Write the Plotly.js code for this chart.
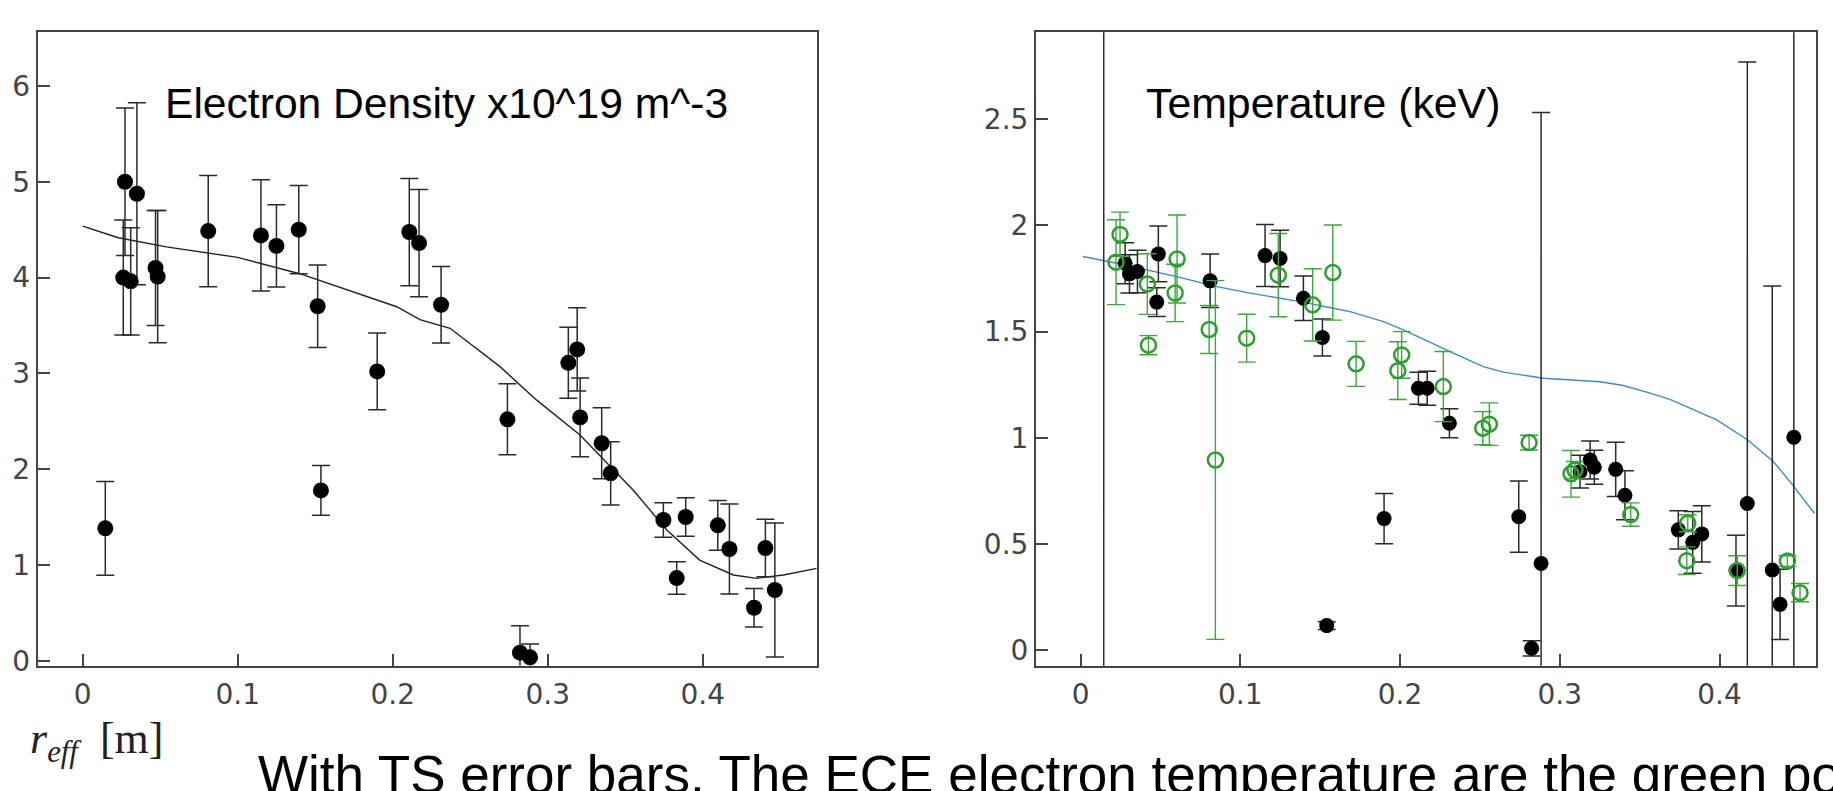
<!DOCTYPE html>
<html>
<head>
<meta charset="utf-8">
<script src="https://cdn.plot.ly/plotly-3.0.1.min.js"></script>
<style>html,body{margin:0;padding:0;background:#fff;}#chart{width:1833px;height:791px;}</style>
</head>
<body>
<div id="chart"></div>
<script>
// ---- Electron density (Thomson scattering) ----
const densR   = [0.0146,0.0262,0.0273,0.031,0.035,0.047,0.0484,0.081,0.115,0.125,0.1394,0.1516,0.1537,0.19,0.2107,0.217,0.2312,0.274,0.2821,0.2886,0.3133,0.319,0.3209,0.3348,0.3406,0.3746,0.3832,0.389,0.4097,0.4172,0.4331,0.4404,0.4465];
const densVal = [1.382,4.00,5.00,3.96,4.875,4.10,4.01,4.485,4.44,4.33,4.50,3.70,1.778,3.02,4.475,4.36,3.716,2.52,0.084,0.035,3.11,3.25,2.54,2.27,1.956,1.469,0.863,1.50,1.413,1.166,0.553,1.176,0.738];
const densErr = [0.49,0.60,0.77,0.56,0.95,0.60,0.69,0.58,0.58,0.43,0.46,0.43,0.26,0.40,0.56,0.56,0.40,0.37,0.28,0.14,0.37,0.435,0.41,0.37,0.33,0.18,0.17,0.20,0.26,0.47,0.20,0.30,0.70];

// density fit curve
const densFitR = [0.0,0.023,0.054,0.1,0.14,0.2026,0.2176,0.237,0.2692,0.2929,0.3208,0.3552,0.3768,0.398,0.4197,0.4348,0.452,0.4735];
const densFitV = [4.537,4.415,4.32,4.21,4.04,3.695,3.56,3.47,3.07,2.72,2.356,1.78,1.364,1.05,0.895,0.86,0.895,0.964];

// ---- Electron temperature, Thomson scattering (black) ----
const tsR   = [0.0145,0.0279,0.0306,0.0356,0.0487,0.0477,0.0811,0.1155,0.1249,0.1395,0.1514,0.1541,0.19,0.2115,0.217,0.2309,0.2743,0.2824,0.2883,0.3127,0.319,0.3216,0.335,0.3408,0.3742,0.3832,0.3889,0.4103,0.4174,0.433,0.4379,0.4465];
const tsVal = [-1.0,1.822,1.772,1.783,1.866,1.639,1.739,1.858,1.844,1.657,1.472,0.115,0.619,1.233,1.233,1.068,0.628,0.008,0.408,0.84,0.895,0.861,0.851,0.729,0.566,0.507,0.547,0.374,0.69,0.377,0.215,1.002];
const tsErr = [4.0,0.097,0.09,0.1,0.131,0.068,0.126,0.146,0.133,0.105,0.087,0.018,0.118,0.075,0.08,0.068,0.168,0.036,2.124,0.077,0.09,0.08,0.128,0.116,0.09,0.145,0.133,0.167,2.08,1.338,0.165,2.5];

// ---- Electron temperature, ECE (green) ----
const eceR   = [0.0222,0.0247,0.0418,0.0425,0.0592,0.0604,0.0805,0.0844,0.104,0.1238,0.1453,0.1579,0.1725,0.1986,0.201,0.2271,0.2518,0.2559,0.2808,0.307,0.3095,0.3444,0.3801,0.3795,0.4111,0.4425,0.4504];
const eceVal = [1.827,1.958,1.724,1.436,1.682,1.842,1.51,0.895,1.469,1.766,1.626,1.778,1.348,1.316,1.39,1.241,1.045,1.064,0.977,0.83,0.848,0.638,0.597,0.421,0.374,0.419,0.27];
const eceErr = [0.2,0.105,0.143,0.045,0.135,0.207,0.113,0.845,0.113,0.196,0.17,0.224,0.106,0.136,0.11,0.165,0.078,0.1,0.035,0.11,0.04,0.055,0.04,0.065,0.07,0.025,0.043];

// temperature fit curve
const teFitR = [0.0014,0.0227,0.0602,0.0853,0.1061,0.1374,0.1583,0.1687,0.1896,0.2021,0.2313,0.2521,0.2647,0.2897,0.3252,0.3398,0.3565,0.369,0.3982,0.417,0.4337,0.4462,0.4594];
const teFitV = [1.854,1.822,1.759,1.712,1.681,1.641,1.61,1.594,1.547,1.508,1.406,1.335,1.309,1.28,1.264,1.246,1.21,1.181,1.084,0.993,0.888,0.773,0.644];

// ---- tick labels ----
const xTickVals = [0,0.1,0.2,0.3,0.4];
const xTickText = ['0','0.1','0.2','0.3','0.4'];
const yDensTickVals = [0,1,2,3,4,5,6];
const yDensTickText = ['0','1','2','3','4','5','6'];
const yTempTickVals = [0,0.5,1,1.5,2,2.5];
const yTempTickText = ['0','0.5','1','1.5','2','2.5'];

const panelTitles = ['Electron Density x10^19 m^-3','Temperature (keV)'];
const axisLabel = '<i>r</i><sub><i>eff</i></sub>&nbsp;&nbsp;[m]';
const caption = 'With TS error bars. The ECE electron temperature are the green points.';

const W = 1833, H = 791;
const px = v => v / W;
const py = v => 1 - v / H;

const traces = [
  {x: densFitR, y: densFitV, xaxis:'x', yaxis:'y', mode:'lines', line:{color:'#222', width:1.4}, hoverinfo:'skip'},
  {x: densR, y: densVal, xaxis:'x', yaxis:'y', mode:'markers',
   marker:{color:'#000', size:16},
   error_y:{type:'data', array: densErr, visible:true, color:'#2a2a2a', thickness:1.5, width:9}},
  {x: teFitR, y: teFitV, xaxis:'x2', yaxis:'y2', mode:'lines', line:{color:'#3a8bd0', width:1.4}, hoverinfo:'skip'},
  {x: tsR, y: tsVal, xaxis:'x2', yaxis:'y2', mode:'markers',
   marker:{color:'#000', size:15},
   error_y:{type:'data', array: tsErr, visible:true, color:'#2a2a2a', thickness:1.5, width:9}},
  {x: eceR, y: eceVal, xaxis:'x2', yaxis:'y2', mode:'markers',
   marker:{color:'#2ca02c', size:15, symbol:'circle-open', line:{color:'#2ca02c', width:2.5}},
   error_y:{type:'data', array: eceErr, visible:true, color:'#3aa83a', thickness:1.4, width:9}}
];

const tickFont = {family:'DejaVu Sans', size:28, color:'#444'};
const axBase = {
  ticks:'inside', ticklen:12, tickwidth:2, tickcolor:'#444',
  showline:true, linewidth:2, linecolor:'#444', mirror:true,
  showgrid:false, zeroline:false, tickfont: tickFont, tickmode:'array'
};
const yDomain = [py(665.7), py(32.3)];

const layout = {
  width: W, height: H,
  margin:{l:0, r:0, t:0, b:0},
  paper_bgcolor:'#fff', plot_bgcolor:'#fff',
  showlegend:false,
  xaxis: Object.assign({}, axBase, {domain:[px(37.7), px(816.7)], range:[-0.029,0.4735], tickvals:xTickVals, ticktext:xTickText, anchor:'y', ticklabelstandoff:3}),
  yaxis: Object.assign({}, axBase, {domain:yDomain, range:[-0.052,6.56], tickvals:yDensTickVals, ticktext:yDensTickText, anchor:'x'}),
  xaxis2: Object.assign({}, axBase, {domain:[px(1036), px(1815.7)], range:[-0.0279,0.4602], tickvals:xTickVals, ticktext:xTickText, anchor:'y2', ticklabelstandoff:3}),
  yaxis2: Object.assign({}, axBase, {domain:yDomain, range:[-0.074,2.91], tickvals:yTempTickVals, ticktext:yTempTickText, anchor:'x2'}),
  annotations: [
    {xref:'paper', yref:'paper', x:px(163), y:py(102.8), xanchor:'left', yanchor:'middle', showarrow:false,
     text: panelTitles[0], font:{family:'Liberation Sans, Arial', size:42.6, color:'#000'}},
    {xref:'paper', yref:'paper', x:px(1144), y:py(102.8), xanchor:'left', yanchor:'middle', showarrow:false,
     text: panelTitles[1], font:{family:'Liberation Sans, Arial', size:42.8, color:'#000'}},
    {xref:'paper', yref:'paper', x:px(28), y:py(741), xanchor:'left', yanchor:'middle', showarrow:false,
     text: axisLabel, font:{family:'Liberation Serif, DejaVu Serif', size:44, color:'#222'}},
    {xref:'paper', yref:'paper', x:px(256), y:py(774), xanchor:'left', yanchor:'middle', showarrow:false,
     text: caption, font:{family:'Liberation Sans, Arial', size:53, color:'#000'}}
  ]
};

Plotly.newPlot('chart', traces, layout, {displayModeBar:false, staticPlot:true});
</script>
</body>
</html>
